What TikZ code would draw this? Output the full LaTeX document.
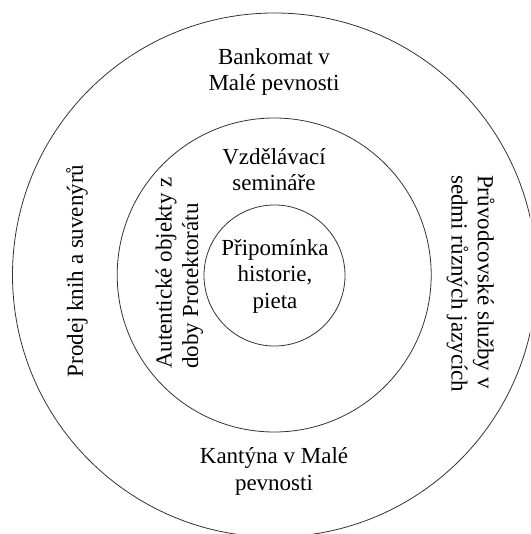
\documentclass[tikz,border=0pt]{standalone}
\usepackage{fontspec}
\setmainfont{Liberation Serif}
\begin{document}
\begin{tikzpicture}[x=1pt,y=-1pt,
  ring/.style={circle,draw=black!80,line width=0.8pt,inner sep=0pt,outer sep=0pt},
  lbl/.style={font=\fontsize{23}{26.3}\selectfont,inner sep=0pt,align=center}]
\useasboundingbox (0,0) rectangle (530,534);
\clip (0,0) rectangle (530,534);
\node[ring,minimum size=524pt] (outer) at (274.5,275) {};
\node[ring,minimum size=314pt] (middle) at (274.2,275) {};
\node[ring,minimum size=141pt] (inner) at (274.5,275.5) {};
\node[lbl,anchor=base] (bank) at (274,90.5) {Bankomat v\\Malé pevnosti};
\node[lbl,anchor=base] (vzdel) at (274,190.7) {Vzdělávací\\semináře};
\node[lbl,anchor=base] (pripom) at (275,308) {Připomínka\\historie,\\pieta};
\node[lbl,anchor=base] (kantyna) at (274,490) {Kantýna v Malé\\pevnosti};
\node[lbl,anchor=base,rotate=90] (prodej) at (82.8,271) {Prodej knih a suvenýrů};
\node[lbl,align=left,anchor=base west,rotate=90] (autent) at (198,369) {Autentické objekty z\\doby Protektorátu};
\node[lbl,align=left,anchor=base west,rotate=-90] (pruv) at (451.5,175) {Průvodcovské služby v\\sedmi různých jazycích};
\end{tikzpicture}
\end{document}
